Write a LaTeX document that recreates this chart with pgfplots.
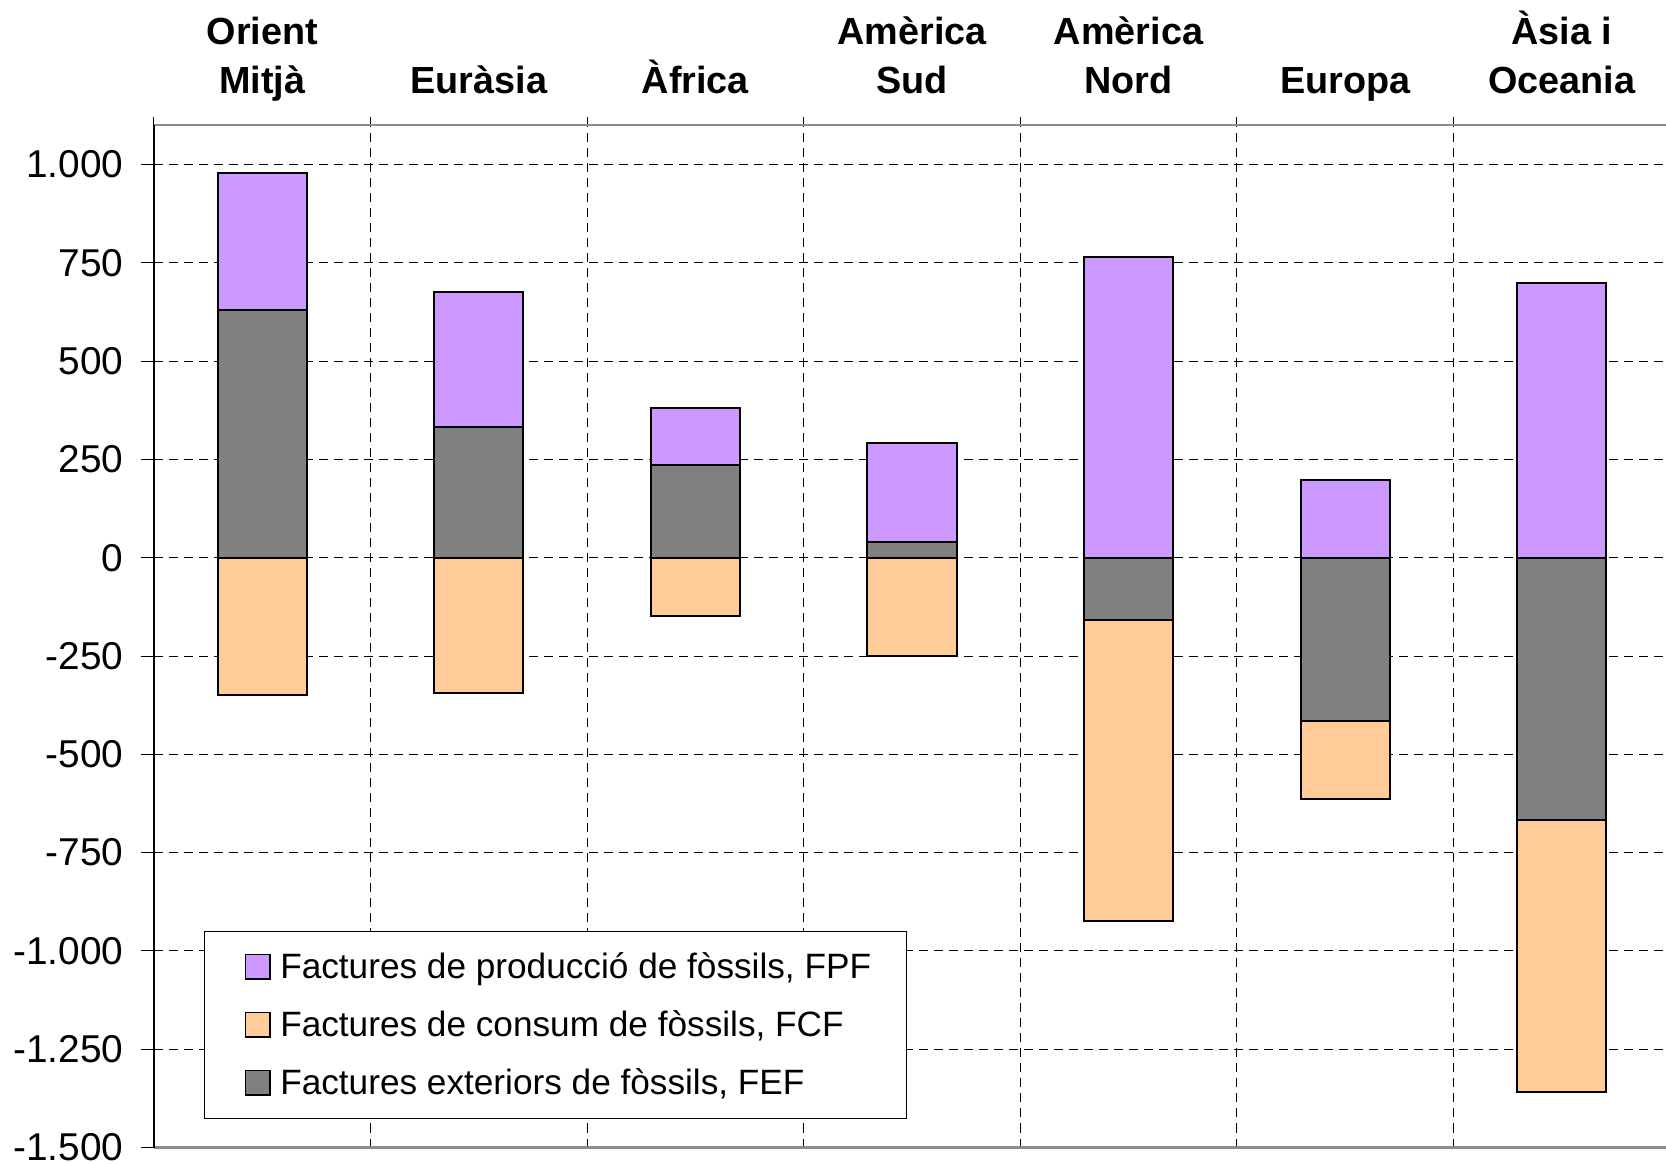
\documentclass[border=0pt]{standalone}
\usepackage{pgfplots}
\pgfplotsset{compat=1.18}
\usepackage{fontspec}
\setmainfont{Liberation Sans}
\definecolor{fpf}{HTML}{CC99FF}
\definecolor{fcf}{HTML}{FFCC99}
\definecolor{fef}{HTML}{808080}
\begin{document}
\begin{tikzpicture}
\begin{axis}[
  at={(0,0)}, anchor=south west,
  scale only axis,
  width=758pt, height=511.1pt,
  xmin=-0.5, xmax=6.5,
  ymin=-1500, ymax=1100,
  ybar, bar width=44.6pt, bar shift=0pt,
  xtick={0,...,6},
  xticklabels={{Orient\\Mitjà},{Euràsia},{Àfrica},{Amèrica\\Sud},{Amèrica\\Nord},{Europa},{Àsia i\\Oceania}},
  xtick pos=upper, xticklabel pos=upper,
  major x tick style={draw=none},
  minor xtick={-0.5,0.5,...,6.5},
  xminorgrids=true,
  ytick={-1500,-1250,...,1000},
  ymajorgrids=true,
  ytick pos=left,
  tick align=outside,
  major tick length=6.4pt, minor tick length=4.25pt,
  grid style={black, line width=0.5pt, dash pattern=on 4.5pt off 3pt},
  minor grid style={black, line width=0.5pt, dash pattern=on 4.5pt off 3pt},
  tick style={black, line width=0.5pt},
  separate axis lines,
  every outer x axis line/.append style={draw=black!45, line width=1.2pt},
  every outer y axis line/.append style={draw=black, line width=0.8pt},
  xticklabel style={font=\fontsize{18.9}{24.4}\selectfont\bfseries, align=center, anchor=south, inner sep=0pt, text depth=4pt, yshift=5.3pt},
  yticklabel style={font=\fontsize{19.4}{22}\selectfont, anchor=east, inner sep=0pt, xshift=-8.8pt},
  scaled y ticks=false,
  /pgf/number format/1000 sep={.},
  /pgf/number format/assume math mode=true,
  legend image code/.code={\path (0pt,0pt); \draw[#1, line width=0.8pt] (2.2pt,-6.1pt) rectangle (14.4pt,6.1pt);},
  legend cell align=left,
  legend style={at={(0.0329,0.0281)}, anchor=south west, draw=black, line width=0.6pt, fill=white,
    font=\fontsize{17.6}{20}\selectfont, inner xsep=17.8pt, inner ysep=8.5pt, row sep=10.5pt, column sep=4.8pt,
    nodes={inner xsep=0pt}},
]
\addplot[fill=fpf, draw=black, line width=1pt] coordinates {(0,978) (1,675) (2,382) (3,291) (4,765) (5,198) (6,698)};
\addplot[fill=fcf, draw=black, line width=1pt] coordinates {(0,-349) (1,-343) (2,-147) (3,-250) (4,-923) (5,-613) (6,-1360)};
\addplot[fill=fef, draw=black, line width=1pt] coordinates {(0,630) (1,332) (2,235) (3,41) (4,-158) (5,-415) (6,-668)};
\legend{{Factures de producció de fòssils, FPF},{Factures de consum de fòssils, FCF},{Factures exteriors de fòssils, FEF}}
\end{axis}
\pgfresetboundingbox
\useasboundingbox (-77pt,-7.75pt) rectangle (756pt,573.75pt);
\end{tikzpicture}
\end{document}
